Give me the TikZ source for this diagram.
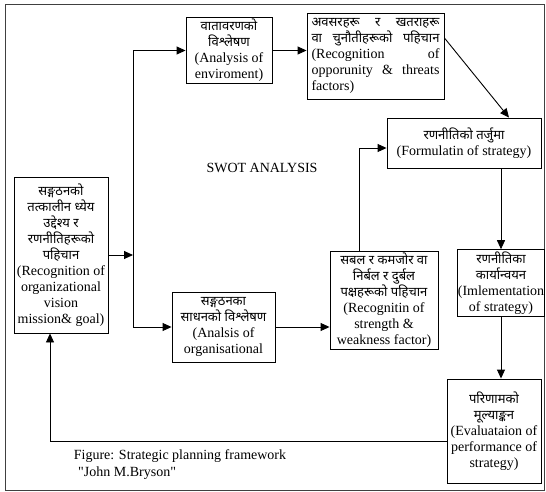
\documentclass[tikz,border=0pt]{standalone}
\usepackage{fontspec}
\setmainfont{Liberation Serif}
\newfontfamily\devfont[Script=Devanagari]{Noto Sans}
\usetikzlibrary{arrows.meta,positioning,calc}
\newcommand{\dv}[1]{{\devfont\fontsize{13}{16}\selectfont #1}}
\newcommand{\jl}[1]{\makebox[128pt]{#1}}
\newcommand{\sq}{\XeTeXglyph\XeTeXcharglyph"22 }

\begin{document}
\begin{tikzpicture}[x=1pt,y=-1pt,
  box/.style={draw,line width=0.9pt,align=center,inner sep=2pt,
    font=\fontsize{14}{16}\selectfont},
  arr/.style={line width=0.9pt,-{Triangle[length=9pt,width=8pt]}},
  txt/.style={font=\fontsize{14}{16}\selectfont}
]
  \useasboundingbox (0,0) rectangle (546,492);
  % Outer frame
  \draw[line width=0.8pt,black!75] (5,4) rectangle (544,490);
  % Left column
  \node[box,minimum width=94pt,minimum height=156pt] (goal) at (61,255)
    {\dv{सङ्गठनको}\\ \dv{तत्कालीन ध्येय}\\ \dv{उद्देश्य र}\\ \dv{रणनीतिहरूको}\\ \dv{पहिचान}\\
     (Recognition of\\ organizational\\ vision\\ mission\& goal)};
  % Environment branch
  \node[box,minimum width=86pt,minimum height=65pt] (env) at (229,50.5)
    {\dv{वातावरणको}\\ \dv{विश्लेषण}\\ (Analysis of\\ enviroment)};
  \node[box,text width=128pt,align=left,inner sep=4.5pt,minimum height=86pt] (opp) at (375.5,56)
    {\jl{\dv{अवसरहरू\hfill र\hfill खतराहरू}}\\ \jl{\dv{वा\hfill चुनौतीहरूको\hfill पहिचान}}\\
     \jl{(Recognition\hfill of}\\ \jl{opporunity\hfill \&\hfill threats}\\ factors)};
  % Organisation branch
  \node[box,minimum width=103pt,minimum height=70pt] (org) at (223.5,327)
    {\dv{सङ्गठनका}\\ \dv{साधनको विश्लेषण}\\ (Analsis of\\ organisational};
  \node[box,minimum width=108pt,minimum height=95pt] (str) at (384,300.5)
    {\dv{सबल र कमजोर वा}\\ \dv{निर्बल र दुर्बल}\\ \dv{पक्षहरूको पहिचान}\\
     (Recognitin of\\ strength \&\\ weakness factor)};
  % Right column
  \node[box,minimum width=154pt,minimum height=50pt] (form) at (464,143)
    {\dv{रणनीतिको तर्जुमा}\\ (Formulatin of strategy)};
  \node[box,inner xsep=0pt,minimum width=84pt,minimum height=66pt] (impl) at (501,283)
    {\dv{रणनीतिका}\\ \dv{कार्यान्वयन}\\ (Imlementation\\ of strategy)};
  \node[box,minimum width=94pt,minimum height=104pt] (eval) at (494,431)
    {\dv{परिणामको}\\ \dv{मूल्याङ्कन}\\ (Evaluataion of\\ performance of\\ strategy)};
  % Labels
  \node[txt] (swot) at (262,168) {SWOT ANALYSIS};
  \node[txt] (cap1) at (180,456) {Figure: Strategic planning framework};
  \node[txt,anchor=west,inner sep=0pt] (cap2) at (78,473) {\sq John M.Bryson\sq};
  % Connectors
  \coordinate (split) at (133,255);
  \draw[arr] (goal.east) -- (split);
  \draw[arr] (split) |- (env.west);
  \draw[arr] (split) |- (org.west);
  \draw[arr] (env.east) -- (env.east -| opp.west);
  \draw[arr] ([yshift=18pt]opp.east) -- ($(form.north)+(45,0)$);
  \draw[arr] (org.east) -- (org.east -| str.west);
  \draw[arr] ([xshift=-25pt]str.north) |- ([yshift=-5pt]form.west);
  \draw[arr] (impl.north |- form.south) -- (impl.north);
  \draw[arr] (impl.south) -- (impl.south |- eval.north);
  \draw[arr] ([yshift=-10pt]eval.west) -| ([xshift=-11pt]goal.south);
\end{tikzpicture}
\end{document}
